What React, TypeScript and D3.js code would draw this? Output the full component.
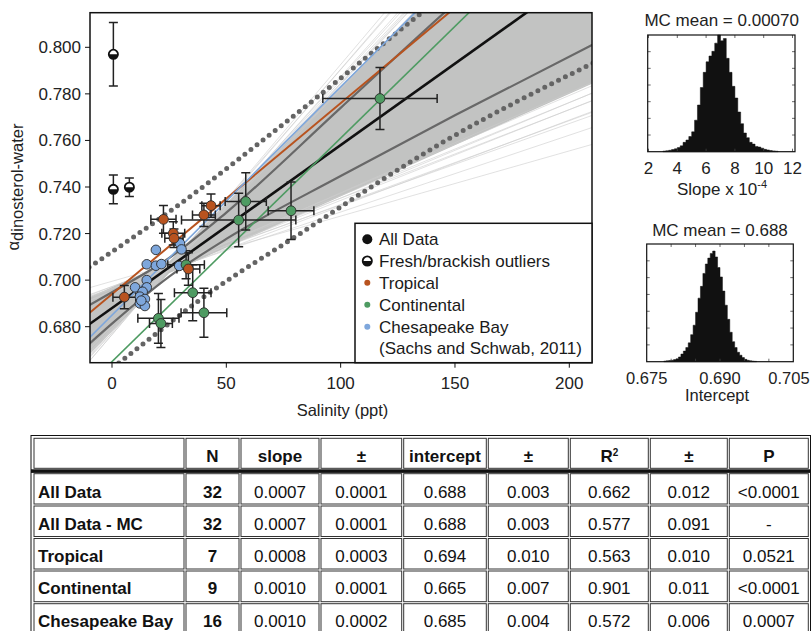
import React from 'react';
import * as d3 from 'd3';

// ---- measured samples (salinity ppt, alpha, errors)
const tropicalSal = [5.4, 22.5, 26.8, 27.1, 33.4, 40.2, 43.3];
const tropicalAlpha = [0.6927, 0.7261, 0.7201, 0.718, 0.7048, 0.728, 0.732];
const tropicalSalErr = [5, 5.5, 5, 4, 5, 5, 4];
const tropicalAlphaErr = [0.005, 0.006, 0.005, 0.004, 0.007, 0.005, 0.005];

const continentalSal = [117.2, 78.3, 58.5, 55.4, 32.4, 35.3, 40.2, 20.3, 21.4];
const continentalAlpha = [0.778, 0.7298, 0.7338, 0.7258, 0.7066, 0.6946, 0.686, 0.6836, 0.6814];
const continentalSalErr = [25, 10, 9, 25, 8, 8, 10, 9, 5];
const continentalAlphaErr = [0.0133, 0.0124, 0.0123, 0.0115, 0.006, 0.012, 0.0105, 0.0107, 0.0103];

const chesapeakeSal = [19.2, 15.2, 19.2, 21.6, 29.7, 30.4, 29.4, 15.2, 10.1, 15.2, 13.4, 12.2, 14.4, 12.2, 14.4, 12.8];
const chesapeakeAlpha = [0.713, 0.7068, 0.7062, 0.7069, 0.7158, 0.7132, 0.7061, 0.7, 0.6969, 0.6969, 0.695, 0.6929, 0.6919, 0.69, 0.6889, 0.6912];

const outlierSal = [0.6, 0.6, 7.6];
const outlierAlpha = [0.797, 0.739, 0.7399];
const outlierAlphaErr = [0.0136, 0.0062, 0.004];

// ---- regression lines
const fitNames = ['All Data', 'Tropical', 'Continental', 'Chesapeake Bay'];
const fitSlopes = [0.0007, 0.00082, 0.00096, 0.00098];
const fitIntercepts = [0.688, 0.694, 0.665, 0.685];

// confidence band (solid grey) and prediction band (dotted)
const ciSal = [-10, 0, 25, 50, 100, 150, 212];
const ciUpper = [0.6892, 0.6948, 0.7095, 0.729, 0.774, 0.819, 0.872];
const ciLower = [0.6726, 0.6813, 0.7015, 0.7177, 0.7447, 0.7708, 0.802];
const predUpperSal = [-10, 29.7, 73.5, 135.5, 160];
const predUpperAlpha = [0.7055, 0.7327, 0.7659, 0.8149, 0.834];
const predLowerSal = [-5, 3.5, 44.3, 77.9, 146.4, 212];
const predLowerAlpha = [0.6583, 0.6648, 0.6957, 0.7172, 0.7602, 0.794];

// Monte Carlo fan
const mcPivot = [25, 0.7055];
const mcCoreSlopes = [0.00044, 0.001];
const mcLineSlopes = [0.00028, 0.00033, 0.00035, 0.00036, 0.00037, 0.00038, 0.00039, 0.0004, 0.00041, 0.00042, 0.00043,
  0.00102, 0.00103, 0.00104, 0.00105, 0.00106, 0.00107, 0.00108, 0.0011, 0.00112, 0.00114, 0.00116];
const mcLineOffsets = [0.001, -0.001, 0.0005, 0, -0.0015, 0.0012, -0.0005, 0.0008, -0.001, 0.0003, -0.0002,
  0.0004, -0.0008, 0.001, -0.0003, 0.0006, -0.0012, 0.0002, -0.0006, 0.0009, -0.0004, 0.0001];

// histograms (relative heights)
const slopeBinStart = 3.0;
const slopeBinWidth = 0.2;
const slopeCounts = [0.005, 0.008, 0.012, 0.018, 0.025, 0.035, 0.05, 0.08, 0.1, 0.13, 0.17, 0.27, 0.4, 0.55, 0.68, 0.77, 0.82,
  0.86, 0.93, 1.0, 0.95, 0.97, 0.8, 0.68, 0.56, 0.46, 0.34, 0.24, 0.16, 0.12, 0.08, 0.065, 0.045, 0.04, 0.03, 0.02, 0.015,
  0.01, 0.007, 0.004];
const slopeTicks = [2, 4, 6, 8, 10, 12];
const interceptBinStart = 0.6785;
const interceptBinWidth = 0.0005;
const interceptCounts = [0.005, 0.008, 0.01, 0.012, 0.018, 0.025, 0.04, 0.065, 0.09, 0.12, 0.16, 0.23, 0.31, 0.42, 0.54, 0.64,
  0.75, 0.83, 0.88, 0.92, 0.94, 0.89, 0.8, 0.72, 0.6, 0.48, 0.36, 0.25, 0.17, 0.12, 0.08, 0.055, 0.035, 0.02, 0.012, 0.008,
  0.005, 0.003];
const interceptTicks = [0.675, 0.69, 0.705];
const interceptMinorTicks = [0.68, 0.685, 0.69, 0.695, 0.7];

// table
const tableHeader = ['', 'N', 'slope', '±', 'intercept', '±', 'R2', '±', 'P'];
const tableLabels = ['All Data', 'All Data - MC', 'Tropical', 'Continental', 'Chesapeake Bay'];
const tableN = ['32', '32', '7', '9', '16'];
const tableSlope = ['0.0007', '0.0007', '0.0008', '0.0010', '0.0010'];
const tableSlopeErr = ['0.0001', '0.0001', '0.0003', '0.0001', '0.0002'];
const tableIntercept = ['0.688', '0.688', '0.694', '0.665', '0.685'];
const tableInterceptErr = ['0.003', '0.003', '0.010', '0.007', '0.004'];
const tableR2 = ['0.662', '0.577', '0.563', '0.901', '0.572'];
const tableR2Err = ['0.012', '0.091', '0.010', '0.011', '0.006'];
const tableP = ['<0.0001', '-', '0.0521', '<0.0001', '0.0007'];

const yTicks = [0.68, 0.7, 0.72, 0.74, 0.76, 0.78, 0.8];
const xTicks = [0, 50, 100, 150, 200];

const FONT = '"Liberation Sans", Arial, Helvetica, sans-serif';
const ORANGE = '#b8531f';
const GREEN = '#4e9b62';
const BLUE = '#7ea7dc';

const App = () => {
  const P = { left: 90, top: 12.7, right: 592, bottom: 362.7 };
  const x = d3.scaleLinear().domain([0, 200]).range([112, 569.3]);
  const y = d3.scaleLinear().domain([0.68, 0.8]).range([326.7, 47.3]);
  const straight = d3.line<number[]>().x(d => x(d[0])).y(d => y(d[1]));
  const smooth = d3.line<number[]>().x(d => x(d[0])).y(d => y(d[1])).curve(d3.curveMonotoneX);
  const s0 = -12, s1 = 215;

  const lineFor = (m: number, b: number) => straight([[s0, b + m * s0], [s1, b + m * s1]]);
  const mcLine = (m: number, off: number) =>
    lineFor(m, mcPivot[1] - m * mcPivot[0] + off);

  const [mLo, mHi] = mcCoreSlopes;
  const pad = 0.0025;
  const fan = [
    [s0, mcPivot[1] + mLo * (s0 - mcPivot[0]) + pad],
    [mcPivot[0], mcPivot[1] + pad],
    [s1, mcPivot[1] + mHi * (s1 - mcPivot[0]) + pad],
    [s1, mcPivot[1] + mLo * (s1 - mcPivot[0]) - pad],
    [mcPivot[0], mcPivot[1] - pad],
    [s0, mcPivot[1] + mHi * (s0 - mcPivot[0]) - pad],
  ];

  const fitColors = ['#111', ORANGE, GREEN, BLUE];
  const fitWidths = [2.6, 2, 1.6, 1.6];

  const errBars = (sal: number[], al: number[], se: number[] | null, ae: number[], key: string) =>
    sal.map((s, i) => {
      const cx = x(s), cy = y(al[i]);
      const out = [];
      if (ae[i] > 0) {
        const y0 = y(al[i] - ae[i]), y1 = y(al[i] + ae[i]);
        out.push(<line key="v" x1={cx} x2={cx} y1={y0} y2={y1} />);
        out.push(<line key="v0" x1={cx - 4.5} x2={cx + 4.5} y1={y0} y2={y0} />);
        out.push(<line key="v1" x1={cx - 4.5} x2={cx + 4.5} y1={y1} y2={y1} />);
      }
      if (se && se[i] > 0) {
        const x0 = x(s - se[i]), x1 = x(s + se[i]);
        out.push(<line key="h" x1={x0} x2={x1} y1={cy} y2={cy} />);
        out.push(<line key="h0" x1={x0} x2={x0} y1={cy - 4.5} y2={cy + 4.5} />);
        out.push(<line key="h1" x1={x1} x2={x1} y1={cy - 4.5} y2={cy + 4.5} />);
      }
      return <g key={key + i}>{out}</g>;
    });

  const outlierMarker = (cx: number, cy: number, k: string) => (
    <g key={k} transform={`translate(${cx},${cy})`}>
      <circle r={4.6} fill="#fff" stroke="#111" strokeWidth={1.8} />
      <path d="M-4.6,0 A4.6,4.6 0 0 0 4.6,0 Z" fill="#111" />
    </g>
  );

  // histogram frames
  const hSlope = { left: 647.7, right: 795, top: 35, bottom: 151.7 };
  const hInt = { left: 646.7, right: 793.3, top: 244, bottom: 361.7 };
  const xs = d3.scaleLinear().domain([2, 12]).range([648.5, 792.5]);
  const ys = d3.scaleLinear().domain([0, 1]).range([hSlope.bottom, hSlope.top]);
  const xi = d3.scaleLinear().domain([0.675, 0.705]).range([hInt.left, hInt.right]);
  const yi = d3.scaleLinear().domain([0, 1]).range([hInt.bottom, hInt.top]);

  const histPath = (counts: number[], start: number, w: number, sx: any, sy: any) => {
    const pts = counts.map((c, i) => [start + i * w, c]);
    pts.push([start + counts.length * w, 0]);
    return d3.area<number[]>().x(d => sx(d[0])).y0(sy(0)).y1(d => sy(d[1])).curve(d3.curveStepAfter)(pts) || '';
  };

  const histFrame = (f: any, xt: number[], k: string) => {
    const ticks = [];
    xt.forEach((t, i) => {
      ticks.push(<line key={k + 't' + i} x1={t} x2={t} y1={f.top} y2={f.top + 3} />);
      ticks.push(<line key={k + 'b' + i} x1={t} x2={t} y1={f.bottom} y2={f.bottom - 3} />);
    });
    for (let j = 1; j < 7; j++) {
      const ty = f.bottom - (j * (f.bottom - f.top)) / 7;
      ticks.push(<line key={k + 'l' + j} x1={f.left} x2={f.left + 3} y1={ty} y2={ty} />);
      ticks.push(<line key={k + 'r' + j} x1={f.right} x2={f.right - 3} y1={ty} y2={ty} />);
    }
    return (
      <g>
        <g stroke="#444" strokeWidth={0.8}>{ticks}</g>
        <rect x={f.left} y={f.top} width={f.right - f.left} height={f.bottom - f.top} fill="none" stroke="#111" strokeWidth={1.2} />
      </g>
    );
  };

  // table layout
  const colX = [33, 185, 240, 320, 402.7, 487.3, 569.3, 649.3, 728.3, 809.3];
  const rowY = [437.3, 469.3, 505, 537.5, 570, 602.7, 640];
  const rowTextY = [462, 497.7, 530.3, 562, 594.3, 627];
  const tableCols = [tableN, tableSlope, tableSlopeErr, tableIntercept, tableInterceptErr, tableR2, tableR2Err, tableP];

  const legendItems = ['All Data', 'Fresh/brackish outliers', 'Tropical', 'Continental', 'Chesapeake Bay', '(Sachs and Schwab, 2011)'];
  const legendY = [239.3, 261, 282.7, 304.7, 326.7, 348];

  return (
    <svg width={811} height={631} style={{ position: 'absolute', left: 0, top: 0, background: '#fff' }}
      fontFamily={FONT} fontSize={17}>
      <defs>
        <clipPath id="plotClip">
          <rect x={P.left} y={P.top} width={P.right - P.left} height={P.bottom - P.top} />
        </clipPath>
      </defs>

      <g clipPath="url(#plotClip)">
        {/* Monte Carlo fan */}
        <path d={straight(fan) + 'Z'} fill="#c2c3c2" />
        <g stroke="#cdcdcd" strokeWidth={0.6} fill="none">
          {mcLineSlopes.map((m, i) => <path key={i} d={mcLine(m, mcLineOffsets[i]) || ''} />)}
        </g>
        {/* confidence band */}
        <path d={smooth(ciSal.map((s, i) => [s, ciUpper[i]])) || ''} fill="none" stroke="#686868" strokeWidth={2.2} />
        <path d={smooth(ciSal.map((s, i) => [s, ciLower[i]])) || ''} fill="none" stroke="#686868" strokeWidth={2.2} />
        {/* prediction band */}
        <path d={smooth(predUpperSal.map((s, i) => [s, predUpperAlpha[i]])) || ''} fill="none" stroke="#646464"
          strokeWidth={5} strokeLinecap="round" strokeDasharray="0 7.7" />
        <path d={smooth(predLowerSal.map((s, i) => [s, predLowerAlpha[i]])) || ''} fill="none" stroke="#646464"
          strokeWidth={5} strokeLinecap="round" strokeDasharray="0 7.7" />
        {/* regression fits */}
        {fitNames.map((n, i) => (
          <path key={n} d={lineFor(fitSlopes[i], fitIntercepts[i]) || ''} stroke={fitColors[i]} strokeWidth={fitWidths[i]} fill="none" />
        ))}
        {/* error bars */}
        <g stroke="#222" strokeWidth={1.5}>
          {errBars(outlierSal, outlierAlpha, null, outlierAlphaErr, 'o')}
          {errBars(continentalSal, continentalAlpha, continentalSalErr, continentalAlphaErr, 'c')}
          {errBars(tropicalSal, tropicalAlpha, tropicalSalErr, tropicalAlphaErr, 't')}
        </g>
        {/* points */}
        <g stroke="#2a2a2a" strokeWidth={0.9}>
          {chesapeakeSal.map((s, i) => <circle key={'b' + i} cx={x(s)} cy={y(chesapeakeAlpha[i])} r={4.8} fill={BLUE} />)}
          {continentalSal.map((s, i) => <circle key={'g' + i} cx={x(s)} cy={y(continentalAlpha[i])} r={4.9} fill={GREEN} />)}
          {tropicalSal.map((s, i) => <circle key={'r' + i} cx={x(s)} cy={y(tropicalAlpha[i])} r={4.9} fill={ORANGE} />)}
        </g>
        {outlierSal.map((s, i) => outlierMarker(x(s), y(outlierAlpha[i]), 'om' + i))}
      </g>

      {/* axes */}
      <rect x={P.left} y={P.top} width={P.right - P.left} height={P.bottom - P.top} fill="none" stroke="#111" strokeWidth={1.5} />
      <g stroke="#111" strokeWidth={1}>
        {yTicks.map(t => <line key={t} x1={P.left - 5} x2={P.left} y1={y(t)} y2={y(t)} />)}
        {xTicks.map(t => <line key={t} x1={x(t)} x2={x(t)} y1={P.bottom} y2={P.bottom + 5} />)}
      </g>
      <g fill="#222">
        {yTicks.map(t => <text key={t} x={81} y={y(t) + 6} textAnchor="end">{d3.format('.3f')(t)}</text>)}
        {xTicks.map(t => <text key={t} x={x(t)} y={388.8} textAnchor="middle">{t}</text>)}
        <text x={342.5} y={415.5} textAnchor="middle" fontSize={16.5}>Salinity (ppt)</text>
        <text transform="translate(18.5,187) rotate(-90)" textAnchor="middle" fontSize={16.5}>
          <tspan>α</tspan><tspan dy={4}>dinosterol-water</tspan>
        </text>
      </g>

      {/* legend */}
      <rect x={355} y={223.3} width={P.right - 355} height={P.bottom - 223.3} fill="#fff" stroke="#111" strokeWidth={1.5} />
      <circle cx={367.3} cy={legendY[0]} r={5} fill="#111" />
      {outlierMarker(367.3, legendY[1], 'lo')}
      <circle cx={367.3} cy={legendY[2]} r={3} fill={ORANGE} />
      <circle cx={367.3} cy={legendY[3]} r={3} fill={GREEN} />
      <circle cx={367.3} cy={legendY[4]} r={3} fill={BLUE} />
      <g fill="#1a1a1a">
        {legendItems.map((t, i) => <text key={t} x={379} y={legendY[i] + 6}>{t}</text>)}
      </g>

      {/* slope histogram */}
      <path d={histPath(slopeCounts, slopeBinStart, slopeBinWidth, xs, ys)} fill="#111" stroke="#111" strokeWidth={0.5} />
      {histFrame(hSlope, slopeTicks.map(t => xs(t)), 's')}
      <g fill="#222" textAnchor="middle">
        <text x={721.7} y={26}>MC mean = 0.00070</text>
        {slopeTicks.map(t => <text key={t} x={xs(t)} y={173.5}>{t}</text>)}
        <text x={722} y={195}>Slope x 10<tspan fontSize={11} dy={-7}>-4</tspan></text>
      </g>

      {/* intercept histogram */}
      <path d={histPath(interceptCounts, interceptBinStart, interceptBinWidth, xi, yi)} fill="#111" stroke="#111" strokeWidth={0.5} />
      {histFrame(hInt, interceptMinorTicks.map(t => xi(t)), 'i')}
      <g fill="#222" textAnchor="middle" fontSize={16.5}>
        <text x={720} y={236} fontSize={17}>MC mean = 0.688</text>
        {interceptTicks.map(t => <text key={t} x={Math.min(xi(t), 789)} y={384}>{d3.format('.3f')(t)}</text>)}
        <text x={717} y={401}>Intercept</text>
      </g>

      {/* table */}
      <rect x={31} y={435.5} width={779.5} height={210} fill="none" stroke="#111" strokeWidth={1} />
      <g fill="none" stroke="#333" strokeWidth={1}>
        {rowY.slice(0, -1).map((ry, r) =>
          colX.slice(0, -1).map((cx, c) => {
            const top = r === 1 ? ry + 3.4 : ry;
            return (
              <rect key={r + '-' + c} x={cx + 1} y={top + 1} width={colX[c + 1] - cx - 2}
                height={rowY[r + 1] - top - 2} />
            );
          }))}
      </g>
      <rect x={31} y={469.3} width={779.5} height={3.6} fill="#111" />
      <g fill="#111" fontWeight="bold">
        {tableHeader.map((h, c) => c === 0 ? null : (
          <text key={c} x={(colX[c] + colX[c + 1]) / 2} y={rowTextY[0]} textAnchor="middle">
            {h === 'R2' ? <>R<tspan fontSize={10} dy={-6}>2</tspan></> : h}
          </text>
        ))}
        {tableLabels.map((l, r) => <text key={l} x={38} y={rowTextY[r + 1]}>{l}</text>)}
      </g>
      <g fill="#111" textAnchor="middle">
        {tableCols.map((col, c) => col.map((v, r) => (
          <text key={c + '-' + r} x={(colX[c + 1] + colX[c + 2]) / 2} y={rowTextY[r + 1]}
            fontWeight={c === 0 ? 'bold' : 'normal'}>{v}</text>
        )))}
      </g>
    </svg>
  );
};

export default App;
